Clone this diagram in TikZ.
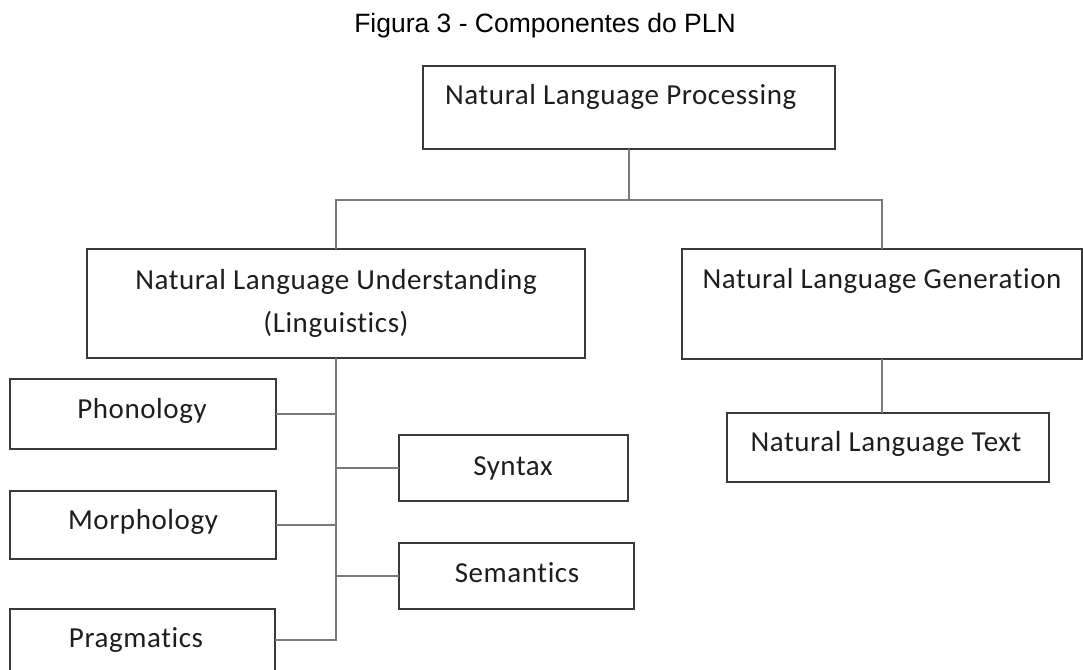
\documentclass[tikz,border=0pt]{standalone}
\usepackage{fontspec}
\setmainfont{Carlito}
\newfontfamily\titlefont{Liberation Sans}
\newfontfamily\boxfont[LetterSpace=2,Ligatures=NoCommon]{Carlito}
\definecolor{boxline}{HTML}{3A3A3A}
\definecolor{connline}{HTML}{7A7A7A}
\definecolor{textcol}{HTML}{1E1E1E}
\tikzset{
  box/.style={draw=boxline, line width=1.8pt, inner sep=0pt, outer sep=0pt,
    rectangle, anchor=north west},
  label text/.style={anchor=base, inner sep=0pt, text=textcol,
    font=\boxfont\fontsize{29}{34}\selectfont},
  conn/.style={draw=connline, line width=1.3pt},
}
\begin{document}
\begin{tikzpicture}[x=1pt,y=-1pt]
\useasboundingbox (0,0) rectangle (1083,669);
\fill[white] (0,0) rectangle (1083,669);

% title
\node[anchor=base, inner sep=0pt, font=\titlefont\fontsize{26.5}{30}\selectfont]
  (title) at (545,33) {Figura 3 - Componentes do PLN};

% boxes
\node[box, minimum width=412pt, minimum height=83pt]  (nlp)   at (423,66)  {};
\node[box, minimum width=498pt, minimum height=109pt] (nlu)   at (87,249)  {};
\node[box, minimum width=400pt, minimum height=110pt] (nlg)   at (682,249) {};
\node[box, minimum width=322pt, minimum height=69pt]  (nlt)   at (727,413) {};
\node[box, minimum width=266pt, minimum height=70pt]  (phon)  at (10,379)  {};
\node[box, minimum width=266pt, minimum height=68pt]  (morph) at (10,491)  {};
\node[box, minimum width=265pt, minimum height=62pt]  (prag)  at (10,609)  {};
\node[box, minimum width=229pt, minimum height=66pt]  (syn)   at (399,435) {};
\node[box, minimum width=235pt, minimum height=66pt]  (sem)   at (399,543) {};

% box texts
\node[label text, anchor=base west] (tnlp) at (445,104) {Natural Language Processing};
\node[label text] (tnlua) at (336,289) {Natural Language Understanding};
\node[label text] (tnlub) at (336,332) {(Linguistics)};
\node[label text] (tnlg)  at (882,288) {Natural Language Generation};
\node[label text] (tnlt)  at (886,451) {Natural Language Text};
\node[label text] (tphon) at (142,418) {Phonology};
\node[label text] (tmorph) at (143,529) {Morphology};
\node[label text] (tprag) at (136,647) {Pragmatics};
\node[label text] (tsyn)  at (513,475) {Syntax};
\node[label text] (tsem)  at (517,582) {Semantics};

% connectors
\coordinate (split) at (nlp.south |- 0,200);
\draw[conn] (nlp.south) -- (split);
\draw[conn] (nlu.north) |- (split) -| (nlg.north);
\draw[conn] (nlg.south) -- (nlg.south |- nlt.north);
\draw[conn] (nlu.south) |- (prag.east);
\draw[conn] (phon.east)  -- (phon.east -| nlu.south);
\draw[conn] (morph.east) -- (morph.east -| nlu.south);
\draw[conn] (syn.west)   -- (syn.west -| nlu.south);
\draw[conn] (sem.west)   -- (sem.west -| nlu.south);
\end{tikzpicture}
\end{document}
